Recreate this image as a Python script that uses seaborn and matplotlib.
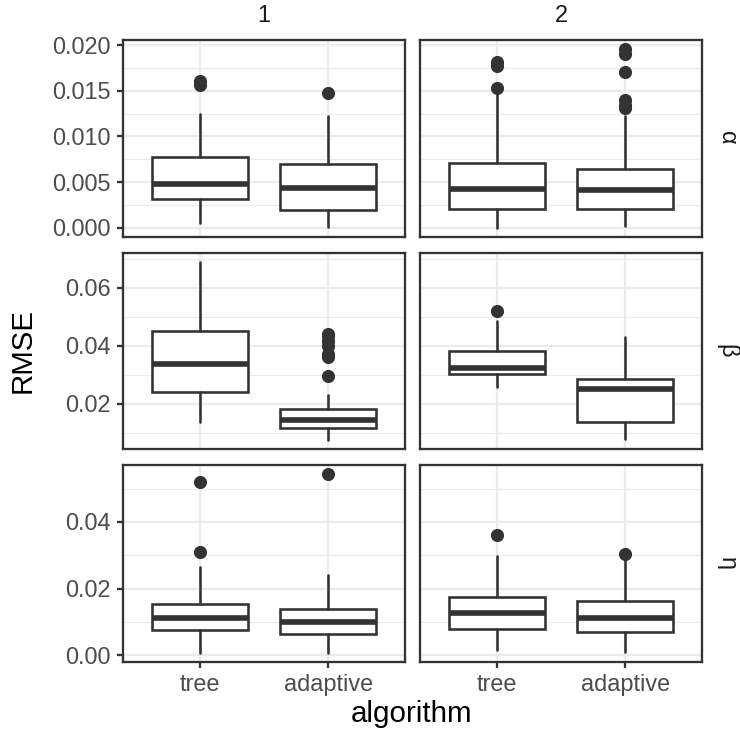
import numpy as np
import matplotlib
matplotlib.use("Agg")
import matplotlib.pyplot as plt
import seaborn as sns
from matplotlib.ticker import MultipleLocator, AutoMinorLocator, FormatStrFormatter

# facets and categories
algorithms = ["tree", "adaptive"]
columns = ["1", "2"]
params = ["α", "β", "η"]

# box summaries
# each row: [col 1 tree, col 1 adaptive, col 2 tree, col 2 adaptive]
whisker_low = [
    [0.0005, 0.0001, 0.0000, 0.0002],
    [0.0138, 0.0074, 0.0259, 0.0079],
    [0.0006, 0.0006, 0.0016, 0.0009],
]
q1 = [
    [0.0031, 0.0019, 0.0020, 0.0020],
    [0.0239, 0.0117, 0.0302, 0.0138],
    [0.0074, 0.0064, 0.0079, 0.0068],
]
median = [
    [0.0048, 0.0044, 0.0042, 0.0041],
    [0.0337, 0.0144, 0.0324, 0.0251],
    [0.0110, 0.0100, 0.0125, 0.0112],
]
q3 = [
    [0.0077, 0.0070, 0.0071, 0.0064],
    [0.0452, 0.0182, 0.0382, 0.0287],
    [0.0154, 0.0137, 0.0173, 0.0161],
]
whisker_high = [
    [0.0125, 0.0122, 0.0147, 0.0122],
    [0.0690, 0.0232, 0.0485, 0.0431],
    [0.0266, 0.0240, 0.0298, 0.0285],
]
outliers = [
    [[0.0156, 0.0159, 0.0161], [0.0148],
     [0.0153, 0.0177, 0.0180, 0.0182], [0.0131, 0.0135, 0.0140, 0.0171, 0.0190, 0.0196]],
    [[], [0.0297, 0.0362, 0.0372, 0.0398, 0.0418, 0.0432, 0.0440],
     [0.0520], []],
    [[0.0309, 0.0521], [0.0543],
     [0.0360], [0.0303]],
]

y_steps = [0.005, 0.02, 0.02]
y_formats = ["%.3f", "%.2f", "%.2f"]

sns.set_style("white")
plt.rcParams["font.family"] = ["Liberation Sans", "DejaVu Sans"]

ink = "#333333"
small = 11.3
big = 14.2

fig, axes = plt.subplots(3, 2, figsize=(740 / 150, 737 / 150), dpi=150,
                         sharex=True, sharey="row")
fig.subplots_adjust(left=123 / 740, right=702 / 740, top=1 - 40 / 737,
                    bottom=1 - 662 / 737, wspace=0.053, hspace=0.082)

for r, p in enumerate(params):
    lows = [whisker_low[r][i] for i in range(4)] + sum(outliers[r], [])
    highs = [whisker_high[r][i] for i in range(4)] + sum(outliers[r], [])
    lo, hi = min(lows), max(highs)
    pad = (hi - lo) * 0.05
    for c, col in enumerate(columns):
        ax = axes[r, c]
        stats = []
        for a in range(2):
            k = c * 2 + a
            stats.append(dict(whislo=whisker_low[r][k], q1=q1[r][k], med=median[r][k],
                              q3=q3[r][k], whishi=whisker_high[r][k],
                              fliers=np.array(outliers[r][k])))
        ax.bxp(stats, positions=[1, 2], widths=0.75, patch_artist=True, showcaps=False,
               boxprops=dict(facecolor="white", edgecolor=ink, linewidth=1.25),
               medianprops=dict(color=ink, linewidth=2.7, solid_capstyle="butt"),
               whiskerprops=dict(color=ink, linewidth=1.25),
               flierprops=dict(marker="o", markerfacecolor=ink, markeredgecolor=ink,
                               markersize=5.3))
        ax.set_xlim(0.4, 2.6)
        ax.set_ylim(lo - pad, hi + pad)
        ax.yaxis.set_major_locator(MultipleLocator(y_steps[r]))
        ax.yaxis.set_major_formatter(FormatStrFormatter(y_formats[r]))
        ax.yaxis.set_minor_locator(AutoMinorLocator(2))
        ax.set_xticks([1, 2])
        ax.set_xticklabels(algorithms)
        ax.set_axisbelow(True)
        ax.grid(which="major", color="#EBEBEB", linewidth=1.1)
        ax.grid(which="minor", axis="y", color="#EBEBEB", linewidth=0.55)
        for s in ax.spines.values():
            s.set_color(ink)
            s.set_linewidth(1.1)
        ax.tick_params(which="major", length=2.9, width=1.1, color=ink,
                       labelsize=small, labelcolor="#4D4D4D", pad=3.0,
                       left=(c == 0), bottom=(r == 2))
        ax.tick_params(which="minor", length=0)
        if r == 0:
            ax.annotate(col, xy=(0.5, 1), xycoords="axes fraction", xytext=(0, 6.3),
                        textcoords="offset points", ha="center", va="bottom",
                        fontsize=small, color="#1A1A1A")
        if c == 1:
            ax.annotate(p, xy=(1, 0.5), xycoords="axes fraction", xytext=(12, 0),
                        textcoords="offset points", ha="center", va="center",
                        rotation=270, fontsize=small, color="#1A1A1A")

fig.text(23 / 740, 1 - 351 / 737, "RMSE", rotation=90, ha="center", va="center",
         fontsize=big, color="black")
fig.text(412 / 740, 1 - 714 / 737, "algorithm", ha="center", va="center",
         fontsize=big, color="black")

fig.savefig("out.png", dpi=150, facecolor="white")
